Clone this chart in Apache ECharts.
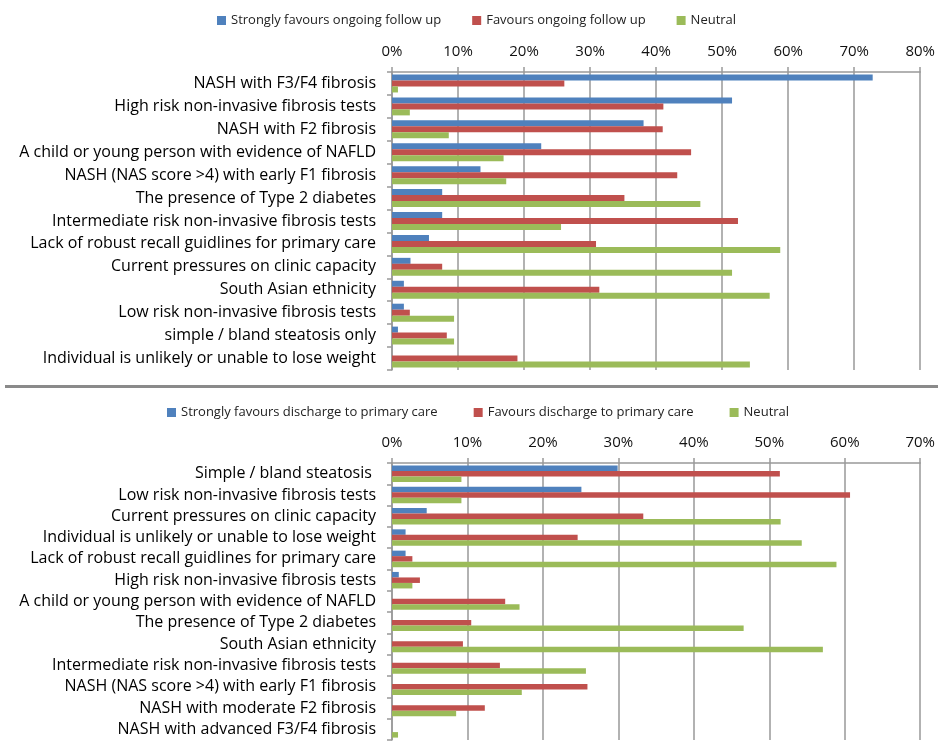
<!DOCTYPE html>
<html>
<head>
<meta charset="utf-8">
<script src="https://cdn.jsdelivr.net/npm/echarts@6/dist/echarts.min.js"></script>
<style>
  html, body { margin: 0; padding: 0; background: #fff; }
  #chart { width: 938px; height: 755px; }
</style>
</head>
<body>
<div id="chart"></div>
<script>
  // top panel: factors favouring ongoing follow up
  var cats1 = ['NASH with F3/F4 fibrosis', 'High risk non-invasive fibrosis tests', 'NASH with F2 fibrosis',
    'A child or young person with evidence of NAFLD', 'NASH (NAS score >4) with early F1 fibrosis',
    'The presence of Type 2 diabetes', 'Intermediate risk non-invasive fibrosis tests',
    'Lack of robust recall guidlines for primary care', 'Current pressures on clinic capacity',
    'South Asian ethnicity', 'Low risk non-invasive fibrosis tests', 'simple / bland steatosis only',
    'Individual is unlikely or unable to lose weight'];
  var strong1 = [72.8, 51.5, 38.1, 22.6, 13.4, 7.6, 7.6, 5.6, 2.8, 1.8, 1.8, 0.9, 0];
  var fav1 = [26.1, 41.1, 41.0, 45.3, 43.2, 35.2, 52.4, 30.9, 7.6, 31.4, 2.7, 8.3, 19.0];
  var neutral1 = [0.9, 2.7, 8.6, 16.9, 17.3, 46.7, 25.6, 58.8, 51.5, 57.2, 9.4, 9.4, 54.2];

  // bottom panel: factors favouring discharge
  var cats2 = ['Simple / bland steatosis ', 'Low risk non-invasive fibrosis tests',
    'Current pressures on clinic capacity', 'Individual is unlikely or unable to lose weight',
    'Lack of robust recall guidlines for primary care', 'High risk non-invasive fibrosis tests',
    'A child or young person with evidence of NAFLD', 'The presence of Type 2 diabetes',
    'South Asian ethnicity', 'Intermediate risk non-invasive fibrosis tests',
    'NASH (NAS score >4) with early F1 fibrosis', 'NASH with moderate F2 fibrosis',
    'NASH with advanced F3/F4 fibrosis'];
  var strong2 = [29.9, 25.1, 4.6, 1.8, 1.8, 0.9, 0, 0, 0, 0, 0, 0, 0];
  var fav2 = [51.4, 60.7, 33.3, 24.6, 2.7, 3.7, 15.0, 10.5, 9.4, 14.3, 25.9, 12.3, 0];
  var neutral2 = [9.2, 9.2, 51.5, 54.3, 58.9, 2.7, 16.9, 46.6, 57.1, 25.7, 17.2, 8.5, 0.8];

  var names1 = ['Strongly favours ongoing follow up', 'Favours ongoing follow up', 'Neutral'];
  var names2 = ['Strongly favours discharge to primary care', 'Favours discharge to primary care', 'Neutral '];

  var BLUE = '#4f81bd', RED = '#c0504d', GREEN = '#9bbb59';
  var FONT = 'Open Sans';
  var gridColor = '#999';

  function xAx(idx, max) {
    return {
      type: 'value', gridIndex: idx, position: 'top', min: 0, max: max, interval: 10,
      axisLine: { show: true, lineStyle: { color: gridColor, width: 1.5 } },
      axisTick: { show: true, length: 5, lineStyle: { color: gridColor, width: 1.5 } },
      splitLine: { show: true, lineStyle: { color: gridColor, width: 1.5 } },
      axisLabel: { formatter: '{value}%', color: '#111', fontSize: 15, fontFamily: FONT, margin: 13 }
    };
  }
  function yAx(idx, cats) {
    return {
      type: 'category', gridIndex: idx, data: cats, inverse: true,
      axisLine: { show: true, lineStyle: { color: gridColor, width: 1.5 } },
      axisTick: { show: true, length: 5, lineStyle: { color: gridColor, width: 1.5 } },
      axisLabel: { color: '#000', fontSize: 16, fontFamily: FONT, margin: 16 }
    };
  }
  function bar(name, idx, data, color, w) {
    return { name: name, type: 'bar', xAxisIndex: idx, yAxisIndex: idx, data: data,
      barWidth: w, barGap: '0%', itemStyle: { color: color }, silent: true };
  }

  var chart = echarts.init(document.getElementById('chart'));
  chart.setOption({
    animation: false,
    backgroundColor: '#fff',
    textStyle: { fontFamily: FONT },
    legend: [
      { data: names1, top: 9, left: 212, itemWidth: 9, itemHeight: 9, itemGap: 31, icon: 'rect',
        textStyle: { fontSize: 13, color: '#222', fontFamily: FONT }, selectedMode: false },
      { data: names2, top: 401, left: 162, itemWidth: 9, itemHeight: 9, itemGap: 36, icon: 'rect',
        textStyle: { fontSize: 13, color: '#222', fontFamily: FONT }, selectedMode: false }
    ],
    grid: [
      { left: 392, right: 17, top: 72, height: 298 },
      { left: 392, right: 17, top: 463, height: 277 }
    ],
    xAxis: [xAx(0, 80), xAx(1, 70)],
    yAxis: [yAx(0, cats1), yAx(1, cats2)],
    graphic: [
      { type: 'rect', shape: { x: 5, y: 385, width: 933, height: 3 }, style: { fill: '#8a8a8a' } }
    ],
    series: [
      bar(names1[0], 0, strong1, BLUE, 6),
      bar(names1[1], 0, fav1, RED, 6),
      bar(names1[2], 0, neutral1, GREEN, 6),
      bar(names2[0], 1, strong2, BLUE, 5.5),
      bar(names2[1], 1, fav2, RED, 5.5),
      bar(names2[2], 1, neutral2, GREEN, 5.5)
    ]
  });
</script>
</body>
</html>
